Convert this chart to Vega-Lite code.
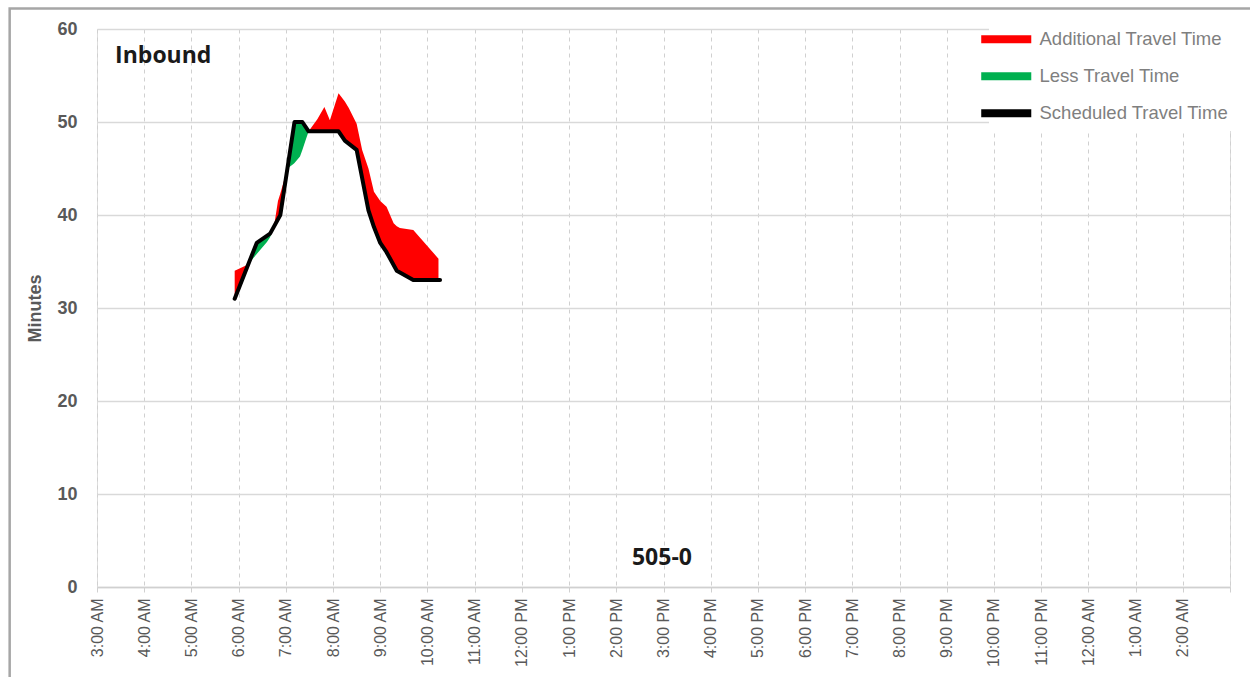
{
  "$schema": "https://vega.github.io/schema/vega-lite/v6.json",
  "width": 1133,
  "height": 558,
  "autosize": {"type": "none"},
  "padding": {"left": 97, "top": 29, "right": 20, "bottom": 90},
  "datasets": {
    "additional": [
      {"t": "2020-01-01T05:55", "scheduled": 31, "actual": 34, "series": "Additional Travel Time"},
      {"t": "2020-01-01T06:10", "scheduled": 34.2, "actual": 34.6, "series": "Additional Travel Time"},
      {"t": "2020-01-01T06:13", "scheduled": 34.8, "actual": 34.8, "series": "Additional Travel Time"},
      {"t": "2020-01-01T06:45", "scheduled": 38.8, "actual": 38.8, "series": "Additional Travel Time"},
      {"t": "2020-01-01T06:50", "scheduled": 39.5, "actual": 41.5, "series": "Additional Travel Time"},
      {"t": "2020-01-01T06:53", "scheduled": 40, "actual": 42.3, "series": "Additional Travel Time"},
      {"t": "2020-01-01T06:57", "scheduled": 42.2, "actual": 43.5, "series": "Additional Travel Time"},
      {"t": "2020-01-01T07:02", "scheduled": 45, "actual": 45, "series": "Additional Travel Time"},
      {"t": "2020-01-01T07:29", "scheduled": 49, "actual": 49, "series": "Additional Travel Time"},
      {"t": "2020-01-01T07:40", "scheduled": 49, "actual": 50.3, "series": "Additional Travel Time"},
      {"t": "2020-01-01T07:49", "scheduled": 49, "actual": 51.6, "series": "Additional Travel Time"},
      {"t": "2020-01-01T07:56", "scheduled": 49, "actual": 50.2, "series": "Additional Travel Time"},
      {"t": "2020-01-01T08:07", "scheduled": 49, "actual": 53.1, "series": "Additional Travel Time"},
      {"t": "2020-01-01T08:15", "scheduled": 48, "actual": 52.2, "series": "Additional Travel Time"},
      {"t": "2020-01-01T08:20", "scheduled": 47.7, "actual": 51.5, "series": "Additional Travel Time"},
      {"t": "2020-01-01T08:30", "scheduled": 47, "actual": 49.8, "series": "Additional Travel Time"},
      {"t": "2020-01-01T08:37", "scheduled": 44, "actual": 47, "series": "Additional Travel Time"},
      {"t": "2020-01-01T08:45", "scheduled": 40.5, "actual": 45, "series": "Additional Travel Time"},
      {"t": "2020-01-01T08:52", "scheduled": 38.7, "actual": 42.5, "series": "Additional Travel Time"},
      {"t": "2020-01-01T09:00", "scheduled": 37, "actual": 41.5, "series": "Additional Travel Time"},
      {"t": "2020-01-01T09:08", "scheduled": 36, "actual": 40.9, "series": "Additional Travel Time"},
      {"t": "2020-01-01T09:17", "scheduled": 34.6, "actual": 39.1, "series": "Additional Travel Time"},
      {"t": "2020-01-01T09:21", "scheduled": 34, "actual": 38.8, "series": "Additional Travel Time"},
      {"t": "2020-01-01T09:25", "scheduled": 33.8, "actual": 38.6, "series": "Additional Travel Time"},
      {"t": "2020-01-01T09:42", "scheduled": 33, "actual": 38.4, "series": "Additional Travel Time"},
      {"t": "2020-01-01T10:14", "scheduled": 33, "actual": 35.3, "series": "Additional Travel Time"}
    ],
    "less": [
      {"t": "2020-01-01T06:13", "scheduled": 34.8, "actual": 34.8, "series": "Less Travel Time"},
      {"t": "2020-01-01T06:23", "scheduled": 37, "actual": 35.8, "series": "Less Travel Time"},
      {"t": "2020-01-01T06:36", "scheduled": 37.8, "actual": 37.1, "series": "Less Travel Time"},
      {"t": "2020-01-01T06:40", "scheduled": 38, "actual": 37.6, "series": "Less Travel Time"},
      {"t": "2020-01-01T06:45", "scheduled": 38.8, "actual": 38.8, "series": "Less Travel Time"},
      {"t": "2020-01-01T07:02", "scheduled": 45, "actual": 45, "series": "Less Travel Time"},
      {"t": "2020-01-01T07:10", "scheduled": 49.4, "actual": 45.5, "series": "Less Travel Time"},
      {"t": "2020-01-01T07:11", "scheduled": 50, "actual": 45.6, "series": "Less Travel Time"},
      {"t": "2020-01-01T07:18", "scheduled": 50, "actual": 46.3, "series": "Less Travel Time"},
      {"t": "2020-01-01T07:21", "scheduled": 50, "actual": 47, "series": "Less Travel Time"},
      {"t": "2020-01-01T07:25", "scheduled": 49.5, "actual": 48, "series": "Less Travel Time"},
      {"t": "2020-01-01T07:29", "scheduled": 49, "actual": 49, "series": "Less Travel Time"}
    ],
    "schedule": [
      {"t": "2020-01-01T05:55", "minutes": 31, "series": "Scheduled Travel Time"},
      {"t": "2020-01-01T06:23", "minutes": 37, "series": "Scheduled Travel Time"},
      {"t": "2020-01-01T06:40", "minutes": 38, "series": "Scheduled Travel Time"},
      {"t": "2020-01-01T06:53", "minutes": 40, "series": "Scheduled Travel Time"},
      {"t": "2020-01-01T07:11", "minutes": 50, "series": "Scheduled Travel Time"},
      {"t": "2020-01-01T07:21", "minutes": 50, "series": "Scheduled Travel Time"},
      {"t": "2020-01-01T07:29", "minutes": 49, "series": "Scheduled Travel Time"},
      {"t": "2020-01-01T08:07", "minutes": 49, "series": "Scheduled Travel Time"},
      {"t": "2020-01-01T08:15", "minutes": 48, "series": "Scheduled Travel Time"},
      {"t": "2020-01-01T08:30", "minutes": 47, "series": "Scheduled Travel Time"},
      {"t": "2020-01-01T08:45", "minutes": 40.5, "series": "Scheduled Travel Time"},
      {"t": "2020-01-01T08:52", "minutes": 38.7, "series": "Scheduled Travel Time"},
      {"t": "2020-01-01T09:00", "minutes": 37, "series": "Scheduled Travel Time"},
      {"t": "2020-01-01T09:08", "minutes": 36, "series": "Scheduled Travel Time"},
      {"t": "2020-01-01T09:21", "minutes": 34, "series": "Scheduled Travel Time"},
      {"t": "2020-01-01T09:42", "minutes": 33, "series": "Scheduled Travel Time"},
      {"t": "2020-01-01T10:16", "minutes": 33, "series": "Scheduled Travel Time"}
    ]
  },
  "layer": [
    {
      "data": {"name": "additional"},
      "mark": {"type": "area"},
      "encoding": {
        "x": {
          "field": "t",
          "type": "temporal",
          "title": null,
          "scale": {"domain": [{"year": 2020, "month": 1, "date": 1, "hours": 3}, {"year": 2020, "month": 1, "date": 2, "hours": 3}]},
          "axis": {
            "format": "%-I:%M %p",
            "tickCount": 24,
            "labelAngle": 270,
            "labelFont": "Liberation Sans",
            "labelFontSize": 16,
            "labelColor": "#595959",
            "labelPadding": 6,
            "labelExpr": "timeFormat(datum.value, '%d %H') === '02 03' ? '' : datum.label",
            "grid": true,
            "gridDash": [4, 4],
            "gridColor": "#d0d0d0",
            "domainColor": "#d0d0d0",
            "domainWidth": 1.5,
            "tickColor": "#d0d0d0",
            "tickSize": 5
          }
        },
        "y": {
          "field": "actual",
          "type": "quantitative",
          "scale": {"domain": [0, 60], "nice": false},
          "axis": {
            "title": "Minutes",
            "values": [0, 10, 20, 30, 40, 50, 60],
            "labelFont": "Liberation Sans",
            "labelFontWeight": "bold",
            "labelFontSize": 18,
            "labelColor": "#595959",
            "labelPadding": 20,
            "domain": false,
            "ticks": false,
            "gridColor": "#d9d9d9",
            "gridWidth": 1.5,
            "titleFont": "Liberation Sans",
            "titleFontWeight": "bold",
            "titleFontSize": 18,
            "titleColor": "#595959",
            "titlePadding": 12
          }
        },
        "y2": {"field": "scheduled"},
        "color": {
          "field": "series",
          "type": "nominal",
          "scale": {
            "domain": ["Additional Travel Time", "Less Travel Time", "Scheduled Travel Time"],
            "range": ["#ff0000", "#00b050", "#000000"]
          },
          "legend": {
            "title": null,
            "orient": "top-right",
            "offset": -7,
            "padding": 8,
            "fillColor": "white",
            "symbolType": "M-2.78,-0.44L2.78,-0.44L2.78,0.44L-2.78,0.44Z",
            "symbolSize": 324,
            "symbolStrokeWidth": 0,
            "labelFont": "Liberation Sans",
            "labelFontSize": 18.5,
            "labelColor": "#7f7f7f",
            "labelOffset": 24,
            "labelLimit": 300,
            "rowPadding": 18
          }
        }
      }
    },
    {
      "data": {"name": "less"},
      "mark": {"type": "area"},
      "encoding": {
        "x": {"field": "t", "type": "temporal"},
        "y": {"field": "actual", "type": "quantitative"},
        "y2": {"field": "scheduled"},
        "color": {"field": "series", "type": "nominal"}
      }
    },
    {
      "data": {"name": "schedule"},
      "mark": {"type": "line", "strokeWidth": 4, "strokeJoin": "round", "strokeCap": "round"},
      "encoding": {
        "x": {"field": "t", "type": "temporal"},
        "y": {"field": "minutes", "type": "quantitative"},
        "color": {"field": "series", "type": "nominal"}
      }
    },
    {
      "data": {"values": [{"t": "2020-01-01T03:23", "v": 56.3, "label": "Inbound"}]},
      "mark": {"type": "text", "font": "Open Sans", "fontWeight": "bold", "fontSize": 23, "color": "#1a1a1a", "align": "left", "baseline": "alphabetic"},
      "encoding": {
        "x": {"field": "t", "type": "temporal"},
        "y": {"field": "v", "type": "quantitative"},
        "text": {"field": "label"}
      }
    },
    {
      "data": {"values": [{"t": "2020-01-01T14:58", "v": 2.37, "label": "505-0"}]},
      "mark": {"type": "text", "font": "Open Sans", "fontWeight": "bold", "fontSize": 23, "color": "#1a1a1a", "align": "center", "baseline": "alphabetic"},
      "encoding": {
        "x": {"field": "t", "type": "temporal"},
        "y": {"field": "v", "type": "quantitative"},
        "text": {"field": "label"}
      }
    },
    {
      "data": {"values": [{}]},
      "mark": {"type": "rect", "filled": false, "stroke": "#a6a6a6", "strokeWidth": 2.5},
      "encoding": {
        "x": {"datum": {"year": 2020, "month": 1, "date": 1, "hours": 1, "minutes": 9}, "type": "temporal"},
        "x2": {"datum": {"year": 2020, "month": 1, "date": 2, "hours": 3, "minutes": 45}},
        "y": {"datum": 62.2, "type": "quantitative"},
        "y2": {"datum": -15}
      }
    }
  ]
}
